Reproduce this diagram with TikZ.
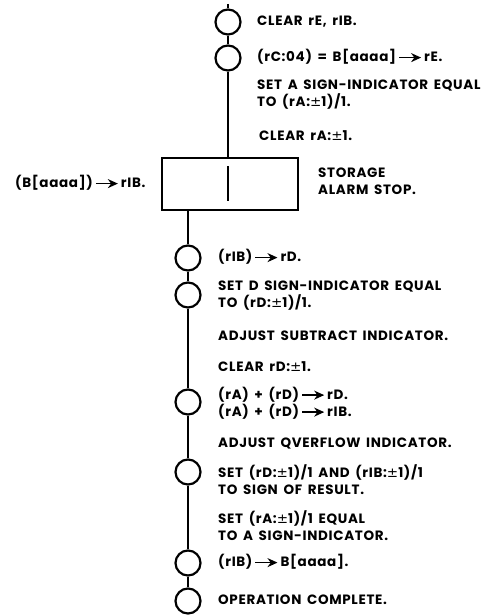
\documentclass[tikz,border=0pt]{standalone}
\usepackage{fontspec}
\setmainfont{Poppins}[LetterSpace=5,WordSpace=1.6]
\newfontfamily\symfont{DejaVu Sans}
\usetikzlibrary{arrows.meta}
\newcommand{\goesto}{\,\tikz[baseline=-0.55ex]\draw[line width=1.6pt,-{Stealth[length=10pt,width=9pt]}] (0,0)--(22pt,0);\,}
\newcommand{\pmone}{{\symfont\mdseries ±}1}
\tikzset{
    step op/.style={draw, circle, line width=2.2pt, minimum size=25pt, inner sep=0pt},
    alarm/.style={draw, rectangle, line width=2.4pt, minimum width=136pt, minimum height=52pt, inner sep=0pt},
    txt/.style={anchor=west, align=left, inner sep=0pt, font=\fontsize{13.5}{17}\selectfont\bfseries},
    flow/.style={line width=2pt}
}
\begin{document}
\begin{tikzpicture}[x=1pt,y=-1pt]
\useasboundingbox (0,0) rectangle (492,615);
% upper branch
\coordinate (top) at (228,4);
\node[step op] (c1) at (228,22) {};
\node[step op] (c2) at (228,58) {};
\node[alarm] (stop) at (230,184) {};
\coordinate (bartop) at (228,166);
\coordinate (barbot) at (228,201);
\draw[flow] (top) -- (c1.north);
\draw[flow] (c1.south) -- (c2.north);
\draw[flow] (c2.south) -- (c2.south |- stop.north);
\draw[line width=2.4pt] (bartop) -- (barbot);
% lower branch
\coordinate (out) at (188,210);
\node[step op] (c3) at (188,258) {};
\node[step op] (c4) at (188,295) {};
\node[step op] (c5) at (188,402) {};
\node[step op] (c6) at (188,472) {};
\node[step op] (c7) at (188,563) {};
\node[step op] (c8) at (188,601) {};
\draw[flow] (out) -- (c3.north);
\draw[flow] (c3.south) -- (c4.north);
\draw[flow] (c4.south) -- (c5.north);
\draw[flow] (c5.south) -- (c6.north);
\draw[flow] (c6.south) -- (c7.north);
\draw[flow] (c7.south) -- (c8.north);
% texts
\node[txt] (t1) at (257,22) {CLEAR rE, rIB.};
\node[txt] (t2) at (257,57) {(rC:04) = B[aaaa]\goesto rE.};
\node[txt] (t3) at (257,95) {SET A SIGN-INDICATOR EQUAL\\TO (rA:\pmone)/1.};
\node[txt] (t4) at (259,136) {CLEAR rA:\pmone.};
\node[txt] (t5) at (318,181) {STORAGE\\ALARM STOP.};
\node[txt] (t6) at (15,183) {(B[aaaa])\goesto rIB.};
\node[txt] (t7) at (218,257) {(rIB)\goesto rD.};
\node[txt] (t8) at (218,296) {SET D SIGN-INDICATOR EQUAL\\TO (rD:\pmone)/1.};
\node[txt] (t9) at (218,336) {ADJUST SUBTRACT INDICATOR.};
\node[txt] (t10) at (218,367) {CLEAR rD:\pmone.};
\node[txt] (t11) at (218,403) {(rA) + (rD)\goesto rD.\\(rA) + (rD)\goesto rIB.};
\node[txt] (t12) at (218,443) {ADJUST QVERFLOW INDICATOR.};
\node[txt] (t13) at (218,480) {SET (rD:\pmone)/1 AND (rIB:\pmone)/1\\TO SIGN OF RESULT.};
\node[txt] (t14) at (218,526) {SET (rA:\pmone)/1 EQUAL\\TO A SIGN-INDICATOR.};
\node[txt] (t15) at (218,562) {(rIB)\goesto B[aaaa].};
\node[txt] (t16) at (218,600) {OPERATION COMPLETE.};
\end{tikzpicture}
\end{document}
